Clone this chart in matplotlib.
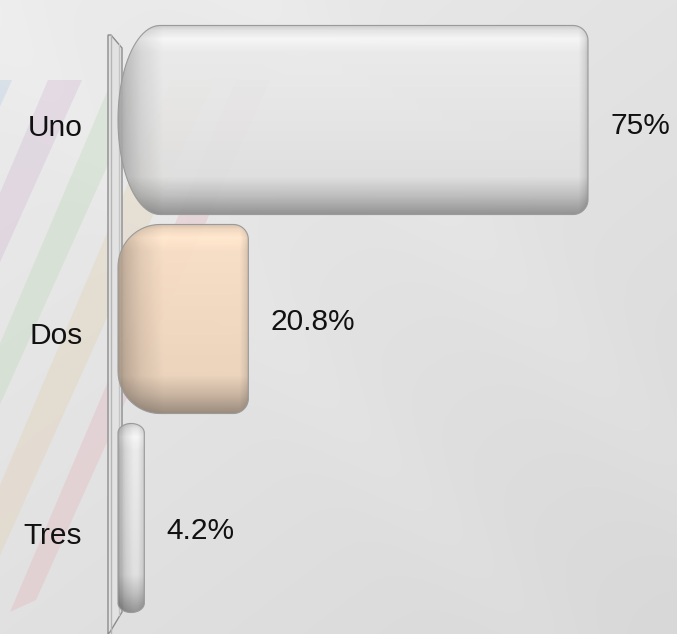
import numpy as np
import matplotlib
matplotlib.use("Agg")
import matplotlib.pyplot as plt
from matplotlib.patches import Polygon

# ---- data ----
categories = ["Uno", "Dos", "Tres"]
values = [75.0, 20.8, 4.2]
value_labels = ["75%", "20.8%", "4.2%"]
bar_colors = [(235, 235, 235), (249, 222, 196), (236, 236, 236)]

W, H = 677, 634
plt.rcParams['font.family'] = ['Liberation Sans', 'DejaVu Sans']
fig = plt.figure(figsize=(W / 100, H / 100), dpi=100)

# ---- background (pixel coordinate decoration axes) ----
bg = fig.add_axes([0, 0, 1, 1], zorder=-2)
bg.set_xlim(0, W)
bg.set_ylim(H, 0)
bg.axis('off')
yy, xx = np.mgrid[0:H, 0:W]
g = 236 - 20 * (0.55 * yy / H + 0.45 * xx / W)
band = 3.0 * np.exp(-((xx - yy * 0.9 - 260) / 70.0) ** 2) + 2.5 * np.exp(-((xx - yy * 0.9 + 30) / 60.0) ** 2)
g = g + band
bgimg = np.dstack([g, g, g]) / 255.0
bg.imshow(np.clip(bgimg, 0, 1), extent=(0, W, H, 0), aspect='auto', zorder=0)

# faint diagonal stripes on the left
stripe_cols = ['#9fbfe0', '#c9a6cc', '#add3a6', '#e3c79c', '#e6a3ad']
stripe_left = [-20, 48, 112, 172, 236]
stripe_w = [32, 34, 34, 42, 34]
slope = 0.45
for c, xl, w in zip(stripe_cols, stripe_left, stripe_w):
    ytop = 80
    ybot = 600
    pts = [(xl, ytop), (xl + w, ytop), (xl + w - slope * (ybot - ytop), ybot), (xl - slope * (ybot - ytop) + 8, ybot + 12)]
    bg.add_patch(Polygon(pts, closed=True, facecolor=c, edgecolor='none', alpha=0.25, zorder=1))

# axis wall
wall = [(108, H), (108, 35), (111, 35), (122, 48), (122, 612), (110, 632)]
bg.add_patch(Polygon(wall, closed=True, facecolor='#e2e2e2', edgecolor='#8c8c8c', lw=1.0, zorder=2))
bg.plot([111, 111], [35, H], color='#b5b5b5', lw=1.0, zorder=3)
bg.plot([119, 119], [44, 615], color='#c4c4c4', lw=1.0, zorder=3)

# ---- main axes ----
ax_left_px = 108
zero_px = 118
dpp = 75.0 / 470.0          # data units per pixel (x)
ypp = 1.0 / 199.0           # data units per pixel (y)
ax = fig.add_axes([ax_left_px / W, 0, (W - ax_left_px) / W, 1])
ax.patch.set_alpha(0)
xlim = (-(zero_px - ax_left_px) * dpp, (W - zero_px) * dpp)
ylim = ((H - 120) * ypp, -120 * ypp)

positions = np.arange(len(categories))
bar_h = 0.95


def corner(cx, cy, rx, ry, a0, a1, n=20):
    out = []
    for t in np.linspace(a0, a1, n):
        out.append((cx + rx * np.cos(t), cy + ry * np.sin(t)))
    return out


def bar_outline(x1, yc, h):
    w_px = x1 / dpp
    h_px = h / ypp
    hh = h_px / 2.0
    rx = min(42.0, w_px / 2.0)
    ry = min(hh, 0.32 * w_px + 1)
    rr = min(15.0, w_px / 2.0)
    rry = min(15.0, ry)
    pts = []
    pts += corner(rx, -hh + ry, rx, ry, -np.pi / 2, -np.pi, 24)
    pts += corner(rx, hh - ry, rx, ry, np.pi, np.pi / 2, 24)
    pts += corner(w_px - rr, hh - rry, rr, rry, np.pi / 2, 0, 16)
    pts += corner(w_px - rr, -hh + rry, rr, rry, 0, -np.pi / 2, 16)
    return [(px * dpp, yc + py * ypp) for px, py in pts]


for pos, val, col in zip(positions, values, bar_colors):
    w_px = val / dpp
    h_px = bar_h / ypp
    nx = max(int(w_px), 2)
    ny = int(h_px)
    t = np.linspace(0, 1, ny)
    v = np.interp(t, [0, 0.025, 0.07, 0.14, 0.5, 0.8, 0.9, 0.97, 1.0],
                  [0.86, 0.97, 1.05, 1.0, 0.975, 0.95, 0.8, 0.66, 0.6])
    d = np.arange(nx)
    L = min(45.0, 0.55 * w_px)
    hl = np.interp(d, [0, 0.18 * L, 0.5 * L, L], [0.7, 0.8, 0.91, 1.0])
    R = min(10.0, 0.3 * w_px)
    hr = np.interp(w_px - d, [0, 0.4 * R, R], [0.8, 0.91, 1.0])
    fac = v[:, None] * hl[None, :] * hr[None, :]
    base = np.array(col, dtype=float) / 255.0
    img = np.clip(base[None, None, :] * fac[:, :, None], 0, 1)
    outline = Polygon(bar_outline(val, pos, bar_h), closed=True, facecolor='none',
                      edgecolor='#9a9a9a', lw=0.8, zorder=3)
    ax.add_patch(outline)
    im = ax.imshow(img, extent=(0, val, pos + bar_h / 2, pos - bar_h / 2), origin='upper',
                   aspect='auto', alpha=0.93, zorder=2, interpolation='bilinear')
    im.set_clip_path(outline)

label_dy = [6, 3, 13]
for pos, val, lab, dy in zip(positions, values, value_labels, label_dy):
    ax.text(val + 22 * dpp, pos + dy * ypp, lab, ha='left', va='center', fontsize=21.5, color='#111111')

ax.set_xlim(*xlim)
ax.set_ylim(*ylim)
ax.set_yticks(positions + np.array([5, 14, 15]) * ypp)
ax.set_yticklabels(categories, fontsize=21.5, color='#111111')
ax.tick_params(axis='y', length=0, pad=18.5)
ax.set_xticks([])
for s in ax.spines.values():
    s.set_visible(False)

fig.savefig("out.png", dpi=100)
